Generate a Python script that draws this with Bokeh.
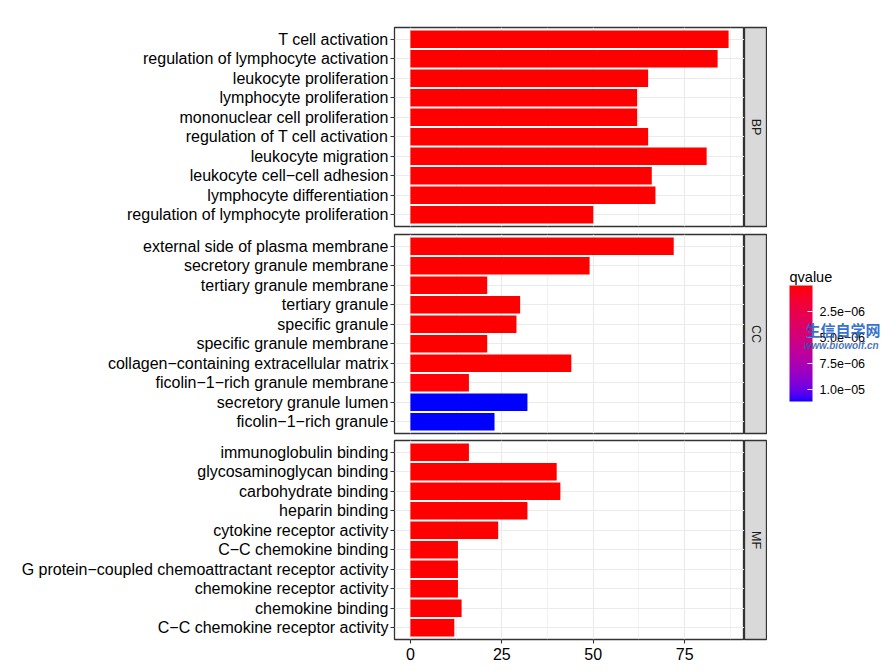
import numpy as np
from bokeh.plotting import figure
from bokeh.layouts import gridplot
from bokeh.models import (ColumnDataSource, FactorRange, Range1d, FixedTicker,
                          LinearColorMapper, ColorBar, CustomJSTickFormatter, Label)
from bokeh.transform import transform
from bokeh.core.properties import value
from bokeh.embed import file_html
from bokeh.resources import INLINE

# ---------------- data ----------------
facets = ["BP", "CC", "MF"]

bp_terms = ["T cell activation", "regulation of lymphocyte activation", "leukocyte proliferation",
            "lymphocyte proliferation", "mononuclear cell proliferation", "regulation of T cell activation",
            "leukocyte migration", "leukocyte cell\u2212cell adhesion", "lymphocyte differentiation",
            "regulation of lymphocyte proliferation"]
bp_counts = [87, 84, 65, 62, 62, 65, 81, 66, 67, 50]
bp_qvalues = [1.2e-19, 3.4e-18, 2.1e-14, 5.6e-14, 8.0e-14, 1.5e-13, 4.3e-13, 9.1e-13, 1.8e-12, 6.5e-12]

cc_terms = ["external side of plasma membrane", "secretory granule membrane", "tertiary granule membrane",
            "tertiary granule", "specific granule", "specific granule membrane",
            "collagen\u2212containing extracellular matrix", "ficolin\u22121\u2212rich granule membrane",
            "secretory granule lumen", "ficolin\u22121\u2212rich granule"]
cc_counts = [72, 49, 21, 30, 29, 21, 44, 16, 32, 23]
cc_qvalues = [2.2e-11, 4.7e-10, 1.3e-9, 3.5e-9, 6.2e-9, 1.4e-8, 3.9e-8, 1.1e-7, 1.12e-5, 1.118e-5]

mf_terms = ["immunoglobulin binding", "glycosaminoglycan binding", "carbohydrate binding", "heparin binding",
            "cytokine receptor activity", "C\u2212C chemokine binding",
            "G protein\u2212coupled chemoattractant receptor activity", "chemokine receptor activity",
            "chemokine binding", "C\u2212C chemokine receptor activity"]
mf_counts = [16, 40, 41, 32, 24, 13, 13, 13, 14, 12]
mf_qvalues = [2.8e-9, 5.5e-9, 7.3e-9, 1.6e-8, 2.4e-8, 3.1e-8, 4.6e-8, 5.2e-8, 6.8e-8, 8.4e-8]

x_ticks = [0, 25, 50, 75]
x_minor = [12.5, 37.5, 62.5, 87.5]
q_ticks = [2.5e-6, 5.0e-6, 7.5e-6, 1.0e-5]
legend_title = "qvalue"


# ---------------- colour scale (Lab interpolation red -> blue) ----------------
def _lin(c):
    c = np.asarray(c, float) / 255.0
    return np.where(c <= 0.04045, c / 12.92, ((c + 0.055) / 1.055) ** 2.4)

M = np.array([[0.4124564, 0.3575761, 0.1804375],
              [0.2126729, 0.7151522, 0.0721750],
              [0.0193339, 0.1191920, 0.9503041]])
WHITE = np.array([0.95047, 1.0, 1.08883])
D = 6 / 29

def rgb2lab(rgb):
    xyz = M @ _lin(rgb) / WHITE
    f = np.where(xyz > D ** 3, np.cbrt(xyz), xyz / (3 * D * D) + 4 / 29)
    return np.array([116 * f[1] - 16, 500 * (f[0] - f[1]), 200 * (f[1] - f[2])])

def lab2hex(lab):
    L, a, b = lab
    fy = (L + 16) / 116
    fx = fy + a / 500
    fz = fy - b / 200
    f = np.array([fx, fy, fz])
    xyz = np.where(f > D, f ** 3, 3 * D * D * (f - 4 / 29)) * WHITE
    lin = np.linalg.solve(M, xyz)
    lin = np.clip(lin, 0, 1)
    srgb = np.where(lin <= 0.0031308, 12.92 * lin, 1.055 * lin ** (1 / 2.4) - 0.055)
    r, g, bb = (np.clip(srgb, 0, 1) * 255).round().astype(int)
    return "#%02x%02x%02x" % (r, g, bb)

lab_red = rgb2lab([255, 0, 0])
lab_blue = rgb2lab([0, 0, 255])
# palette from blue (high qvalue) to red (low qvalue)
palette = [lab2hex(lab_blue + (lab_red - lab_blue) * t) for t in np.linspace(0, 1, 256)]

all_q = bp_qvalues + cc_qvalues + mf_qvalues
mapper = LinearColorMapper(palette=palette, low=max(all_q), high=min(all_q))

all_counts = bp_counts + cc_counts + mf_counts
xmax = max(all_counts)
x_range = Range1d(-0.05 * xmax, 1.05 * xmax)

FONT = "Liberation Sans"
FRAME_W = 350
FRAME_H = 199
LEFT = 394


def main_fig(terms, counts, qs, top, bottom, show_x):
    src = ColumnDataSource(dict(term=terms, count=counts, q=qs))
    p = figure(width=LEFT + FRAME_W, height=top + FRAME_H + bottom,
               y_range=FactorRange(factors=terms[::-1], range_padding=0.1,
                                   range_padding_units="absolute"),
               x_range=x_range,
               x_axis_location="below" if show_x else None,
               toolbar_location=None, output_backend="svg",
               min_border=0, min_border_left=LEFT, min_border_right=0,
               min_border_top=top, min_border_bottom=bottom)
    p.hbar(y="term", left=0, right="count", height=0.9, source=src,
           fill_color=transform("q", mapper), line_color=None)
    p.xgrid.ticker = FixedTicker(ticks=x_ticks, minor_ticks=x_minor)
    p.xgrid.grid_line_color = "#EBEBEB"
    p.xgrid.grid_line_width = 1.2
    p.xgrid.minor_grid_line_color = "#EBEBEB"
    p.xgrid.minor_grid_line_width = 0.6
    p.ygrid.grid_line_color = "#EBEBEB"
    p.ygrid.grid_line_width = 1.2
    p.outline_line_color = "#333333"
    p.outline_line_width = 1.3
    p.background_fill_color = "white"
    p.border_fill_color = "white"

    ya = p.yaxis[0]
    ya.axis_line_color = None
    ya.major_tick_out = 4
    ya.major_tick_in = 0
    ya.major_tick_line_color = "#333333"
    ya.major_tick_line_width = 1.1
    ya.major_label_text_font = FONT
    ya.major_label_text_font_size = "16px"
    ya.major_label_text_color = "#000000"
    ya.major_label_standoff = 2

    if show_x:
        xa = p.xaxis[0]
        xa.ticker = FixedTicker(ticks=x_ticks, minor_ticks=x_minor)
        xa.axis_line_color = None
        xa.major_tick_out = 4
        xa.major_tick_in = 0
        xa.minor_tick_line_color = None
        xa.major_tick_line_color = "#333333"
        xa.major_tick_line_width = 1.1
        xa.major_label_text_font = FONT
        xa.major_label_text_font_size = "16px"
        xa.major_label_text_color = "#000000"
        xa.major_label_standoff = 4
    return p


def strip_fig(label, top, bottom):
    s = figure(width=23, height=top + FRAME_H + bottom,
               x_range=Range1d(0, 1), y_range=Range1d(0, 1),
               x_axis_location=None, y_axis_location=None,
               toolbar_location=None, output_backend="svg",
               min_border=0, min_border_left=0, min_border_right=0,
               min_border_top=top, min_border_bottom=bottom)
    s.grid.visible = False
    s.background_fill_color = "#D9D9D9"
    s.border_fill_color = "white"
    s.outline_line_color = "#333333"
    s.outline_line_width = 1.3
    s.text(x=[0.5], y=[0.5], text=[label], angle=-np.pi / 2,
           text_align="center", text_baseline="middle",
           text_font=value(FONT), text_font_size="12.5px", text_color="#1A1A1A")
    return s


rows = [(bp_terms, bp_counts, bp_qvalues, 27, 4, False),
        (cc_terms, cc_counts, cc_qvalues, 4, 3, False),
        (mf_terms, mf_counts, mf_qvalues, 4, 27, True)]

mains, strips = [], []
for (terms, counts, qs, top, bottom, show_x), lab in zip(rows, facets):
    mains.append(main_fig(terms, counts, qs, top, bottom, show_x))
    strips.append(strip_fig(lab, top, bottom))

# legend figure (middle row)
leg_h = 4 + FRAME_H + 3
leg_w = 886 - (LEFT + FRAME_W + 23)
leg = figure(width=leg_w, height=leg_h, x_range=Range1d(0, 1), y_range=Range1d(0, 1),
             x_axis_location=None, y_axis_location=None,
             toolbar_location=None, output_backend="svg", min_border=0)
leg.grid.visible = False
leg.outline_line_color = None
leg.background_fill_color = "white"
leg.border_fill_color = "white"

formatter = CustomJSTickFormatter(code="""
const s = tick.toExponential(1);
const parts = s.split('e');
const n = parseInt(parts[1]);
const a = Math.abs(n);
return parts[0] + 'e' + (n < 0 ? '\\u2212' : '+') + (a < 10 ? '0' + a : String(a));
""")

cb = ColorBar(color_mapper=mapper, location=(22, 32), width=23, height=116, padding=0,
              title=None,
              ticker=FixedTicker(ticks=q_ticks), formatter=formatter,
              major_label_text_font=FONT, major_label_text_font_size="12.5px",
              major_label_text_color="#000000", label_standoff=7,
              major_tick_line_color="white", major_tick_in=5, major_tick_out=0,
              minor_tick_line_color=None, bar_line_color=None,
              background_fill_color=None, border_line_color=None)
leg.add_layout(cb, "center")

leg.add_layout(Label(x=22, y=157, x_units="screen", y_units="screen", text=legend_title,
                     text_font=FONT, text_font_size="14.5px", text_color="#000000",
                     text_baseline="alphabetic"))

# watermark
leg.add_layout(Label(x=38, y=104, x_units="screen", y_units="screen", text="生信自学网",
                     text_font="Noto Sans CJK SC", text_font_size="15px", text_font_style="bold",
                     text_color="#1A5FC8", text_alpha=0.9, text_baseline="middle"))
leg.add_layout(Label(x=36, y=88, x_units="screen", y_units="screen", text="www.biowolf.cn",
                     text_font=FONT, text_font_size="10px", text_font_style="bold italic",
                     text_color="#2A5AA8", text_alpha=0.85, text_baseline="middle"))

grid = gridplot([[mains[0], strips[0], None],
                 [mains[1], strips[1], leg],
                 [mains[2], strips[2], None]], toolbar_location=None)

open("out.html", "w").write(file_html(grid, INLINE))
